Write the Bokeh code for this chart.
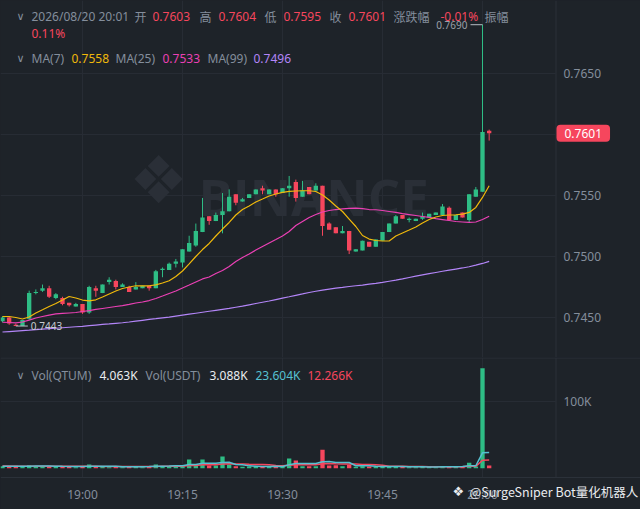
import numpy as np
from bokeh.plotting import figure
from bokeh.layouts import column
from bokeh.models import (Range1d, FixedTicker, Label, Span, ColumnDataSource, Grid,
                          BoxAnnotation)
from bokeh.embed import file_html
from bokeh.resources import INLINE

# ---------------- data ----------------
START = "18:48"          # first 1-minute candle
TICK_LABELS = ["19:00", "19:15", "19:30", "19:45", "20:00"]

open_ = [0.7447, 0.7450, 0.7444, 0.7443, 0.7449, 0.7470, 0.7472, 0.7474, 0.7466, 0.7466,
         0.7462, 0.7459, 0.7461, 0.7454, 0.7474, 0.7470, 0.7479, 0.7480, 0.7475, 0.7475,
         0.7473, 0.7474, 0.7476, 0.7474, 0.7489, 0.7489, 0.7494, 0.7495, 0.7504, 0.7509,
         0.7520, 0.7533, 0.7529, 0.7534, 0.7537, 0.7551, 0.7545, 0.7548, 0.7551, 0.7556,
         0.7551, 0.7555, 0.7552, 0.7556, 0.7561, 0.7549, 0.7557, 0.7554, 0.7558, 0.7527,
         0.7524, 0.7519, 0.7521, 0.7504, 0.7505, 0.7512, 0.7508, 0.7513, 0.7520, 0.7527,
         0.7534, 0.7530, 0.7529, 0.7531, 0.7532, 0.7534, 0.7534, 0.7540, 0.7530, 0.7536,
         0.7530, 0.7549, 0.7553, 0.7603]
high = [0.7451, 0.7451, 0.7445, 0.7448, 0.7472, 0.7473, 0.7477, 0.7476, 0.7470, 0.7467,
        0.7462, 0.7462, 0.7461, 0.7476, 0.7476, 0.7477, 0.7483, 0.7481, 0.7478, 0.7476,
        0.7479, 0.7476, 0.7476, 0.7489, 0.7491, 0.7495, 0.7498, 0.7506, 0.7517, 0.7527,
        0.7548, 0.7533, 0.7536, 0.7552, 0.7555, 0.7551, 0.7548, 0.7551, 0.7555, 0.7558,
        0.7555, 0.7555, 0.7556, 0.7566, 0.7563, 0.7562, 0.7557, 0.7560, 0.7558, 0.7528,
        0.7524, 0.7525, 0.7521, 0.7506, 0.7513, 0.7512, 0.7514, 0.7520, 0.7527, 0.7534,
        0.7534, 0.7532, 0.7531, 0.7536, 0.7535, 0.7536, 0.7543, 0.7541, 0.7534, 0.7536,
        0.7551, 0.7557, 0.7690, 0.7604]
low = [0.7446, 0.7444, 0.7443, 0.7443, 0.7448, 0.7469, 0.7471, 0.7466, 0.7465, 0.7460,
       0.7459, 0.7459, 0.7453, 0.7453, 0.7467, 0.7470, 0.7477, 0.7473, 0.7475, 0.7471,
       0.7473, 0.7474, 0.7472, 0.7474, 0.7483, 0.7489, 0.7491, 0.7491, 0.7504, 0.7508,
       0.7520, 0.7526, 0.7529, 0.7519, 0.7537, 0.7542, 0.7545, 0.7548, 0.7551, 0.7551,
       0.7551, 0.7549, 0.7552, 0.7549, 0.7545, 0.7549, 0.7551, 0.7554, 0.7517, 0.7522,
       0.7519, 0.7519, 0.7502, 0.7504, 0.7505, 0.7508, 0.7508, 0.7513, 0.7520, 0.7527,
       0.7531, 0.7528, 0.7529, 0.7530, 0.7532, 0.7534, 0.7534, 0.7530, 0.7530, 0.7532,
       0.7528, 0.7549, 0.7553, 0.7595]
close = [0.7450, 0.7445, 0.7443, 0.7448, 0.7470, 0.7471, 0.7474, 0.7467, 0.7469, 0.7461,
         0.7460, 0.7461, 0.7454, 0.7475, 0.7472, 0.7477, 0.7481, 0.7475, 0.7477, 0.7471,
         0.7475, 0.7476, 0.7474, 0.7488, 0.7490, 0.7494, 0.7496, 0.7506, 0.7511, 0.7521,
         0.7532, 0.7529, 0.7534, 0.7537, 0.7549, 0.7544, 0.7547, 0.7551, 0.7555, 0.7554,
         0.7555, 0.7551, 0.7556, 0.7558, 0.7548, 0.7554, 0.7551, 0.7558, 0.7525, 0.7522,
         0.7519, 0.7521, 0.7505, 0.7506, 0.7513, 0.7508, 0.7514, 0.7520, 0.7527, 0.7533,
         0.7531, 0.7531, 0.7531, 0.7533, 0.7535, 0.7536, 0.7541, 0.7530, 0.7534, 0.7532,
         0.7551, 0.7555, 0.7602, 0.7601]

ma7 = [0.74508, 0.74508, 0.74500, 0.74488, 0.74504, 0.74537, 0.74563, 0.74590, 0.74615, 0.74643,
       0.74672, 0.74660, 0.74643, 0.74637, 0.74645, 0.74668, 0.74693, 0.74717, 0.74738, 0.74750,
       0.74760, 0.74760, 0.74760, 0.74768, 0.74783, 0.74801, 0.74836, 0.74881, 0.74939, 0.75000,
       0.75057, 0.75107, 0.75168, 0.75225, 0.75279, 0.75340, 0.75385, 0.75414, 0.75447, 0.75471,
       0.75496, 0.75512, 0.75525, 0.75534, 0.75537, 0.75539, 0.75539, 0.75533, 0.75504, 0.75463,
       0.75414, 0.75369, 0.75307, 0.75246, 0.75172, 0.75143, 0.75131, 0.75127, 0.75127, 0.75168,
       0.75193, 0.75217, 0.75242, 0.75275, 0.75303, 0.75324, 0.75336, 0.75340, 0.75342, 0.75348,
       0.75361, 0.75402, 0.75484, 0.75580]
ma25 = [0.74461, 0.74459, 0.74456, 0.74463, 0.74479, 0.74496, 0.74508, 0.74520, 0.74529, 0.74533,
        0.74537, 0.74541, 0.74549, 0.74557, 0.74566, 0.74574, 0.74582, 0.74590, 0.74598, 0.74607,
        0.74619, 0.74627, 0.74639, 0.74656, 0.74676, 0.74697, 0.74717, 0.74742, 0.74766, 0.74791,
        0.74816, 0.74832, 0.74861, 0.74885, 0.74918, 0.74959, 0.74992, 0.75020, 0.75053, 0.75082,
        0.75111, 0.75139, 0.75168, 0.75205, 0.75254, 0.75287, 0.75320, 0.75344, 0.75365, 0.75377,
        0.75385, 0.75391, 0.75395, 0.75396, 0.75393, 0.75385, 0.75383, 0.75377, 0.75369, 0.75361,
        0.75352, 0.75344, 0.75336, 0.75328, 0.75320, 0.75311, 0.75303, 0.75295, 0.75287, 0.75283,
        0.75279, 0.75283, 0.75303, 0.75330]
ma99 = [0.74381, 0.74385, 0.74389, 0.74393, 0.74396, 0.74400, 0.74404, 0.74408, 0.74412, 0.74416,
        0.74420, 0.74424, 0.74428, 0.74433, 0.74438, 0.74443, 0.74447, 0.74452, 0.74457, 0.74463,
        0.74470, 0.74477, 0.74484, 0.74490, 0.74497, 0.74503, 0.74511, 0.74519, 0.74527, 0.74535,
        0.74543, 0.74551, 0.74559, 0.74567, 0.74575, 0.74584, 0.74593, 0.74604, 0.74615, 0.74625,
        0.74635, 0.74647, 0.74659, 0.74670, 0.74682, 0.74693, 0.74705, 0.74715, 0.74725, 0.74733,
        0.74741, 0.74747, 0.74754, 0.74760, 0.74766, 0.74774, 0.74780, 0.74788, 0.74797, 0.74806,
        0.74816, 0.74828, 0.74839, 0.74849, 0.74859, 0.74869, 0.74879, 0.74888, 0.74897, 0.74906,
        0.74916, 0.74929, 0.74943, 0.74960]

vol_k = [3.0, 2.5, 3.5, 2.0, 4.5, 2.5, 3.0, 3.5, 2.0, 3.0,
         2.0, 1.5, 2.5, 5.5, 2.0, 2.5, 1.5, 2.5, 1.5, 3.0,
         2.0, 1.5, 3.0, 5.5, 3.0, 3.0, 4.5, 3.0, 13.0, 3.5,
         13.0, 4.0, 4.0, 17.5, 5.0, 3.0, 2.0, 2.5, 3.0, 2.5,
         2.5, 3.0, 3.0, 14.5, 11.5, 3.0, 3.0, 3.0, 27.5, 4.0,
         4.5, 3.0, 5.0, 2.0, 3.0, 2.5, 2.0, 2.5, 2.5, 3.0,
         2.0, 1.5, 1.5, 2.0, 2.0, 1.5, 2.5, 3.0, 2.0, 2.5,
         8.0, 2.5, 150.0, 4.063]
vol_ma5_k = [3.0, 3.0, 3.0, 2.8, 3.1, 3.2, 3.2, 3.2, 3.1, 2.8,
             2.7, 2.4, 2.6, 3.1, 2.9, 2.9, 2.8, 2.8, 2.2, 2.2,
             2.1, 2.3, 2.4, 3.0, 3.0, 3.2, 3.8, 3.8, 5.7, 5.5,
             7.3, 7.3, 7.5, 8.4, 8.9, 5.6, 5.2, 3.5, 3.1, 2.6,
             2.6, 2.8, 2.7, 5.1, 6.9, 7.0, 7.0, 7.0, 9.7, 9.9,
             8.4, 8.6, 8.6, 3.7, 3.5, 3.5, 2.9, 2.4, 2.5, 2.5,
             2.5, 2.3, 2.1, 2.0, 1.8, 1.8, 2.0, 2.2, 2.2, 2.4,
             3.6, 3.7, 23.0, 23.604]
vol_ma10_k = [3.2, 3.2, 3.1, 3.0, 3.0, 3.1, 3.1, 3.1, 3.0, 3.0,
              2.9, 2.9, 2.8, 2.9, 2.8, 2.7, 2.6, 2.6, 2.5, 2.5,
              2.6, 2.6, 2.6, 2.7, 2.8, 2.9, 3.0, 3.0, 3.9, 4.2,
              5.0, 5.2, 5.3, 6.2, 6.6, 6.4, 6.4, 5.9, 5.6, 5.5,
              5.0, 4.2, 3.5, 4.4, 5.0, 5.2, 5.0, 5.1, 6.8, 6.9,
              6.5, 6.2, 6.4, 6.3, 5.7, 5.4, 5.0, 4.6, 3.0, 3.0,
              2.9, 2.6, 2.5, 2.4, 2.3, 2.2, 2.2, 2.2, 2.2, 2.3,
              2.8, 2.8, 12.0, 12.266]

PRICE_TICKS = [0.7450, 0.7500, 0.7550, 0.7650]
PRICE_GRID = [0.7450, 0.7500, 0.7550, 0.7600, 0.7650]
VOL_TICKS = [100]

# ---------------- styling ----------------
BG = "#1e2329"
GRID = "#272c34"
SEP = "#2b3139"
GRAY = "#848e9c"
RED = "#f6465d"
GREEN = "#2ebd85"
WHITE = "#eaecef"
C_MA7, C_MA25, C_MA99 = "#f0b90b", "#eb40b5", "#b385f8"
C_VMA5, C_VMA10 = "#56c1d1", "#f6465d"
LATIN = "Noto Sans"
CJK = "Noto Sans CJK SC"
AXIS_X = 555          # left edge of the price-scale strip (screen px)
LABEL_X = 563         # left edge of the scale labels (screen px)


def to_min(s):
    h, m = map(int, s.split(":"))
    return h * 60 + m - 19 * 60


t = np.arange(len(close)) + to_min(START)
tick_pos = [to_min(s) for s in TICK_LABELS]

o = np.array(open_); c = np.array(close)
col = [GREEN if cc >= oo else RED for oo, cc in zip(o, c)]
src = ColumnDataSource(dict(t=t, open=o, close=c, high=high, low=low,
                            top=np.maximum(o, c), bottom=np.minimum(o, c), color=col,
                            vol=vol_k))

xr = Range1d(-12.3, 83.7)


def base_fig(h, yr):
    f = figure(width=640, height=h, x_range=xr, y_range=yr, x_axis_location=None,
               y_axis_location=None, toolbar_location=None, output_backend="svg",
               min_border_left=0, min_border_right=0, min_border_top=0, min_border_bottom=0,
               background_fill_color=BG, border_fill_color=BG, outline_line_color=None)
    for g in f.grid:
        g.visible = False
    return f


def lab(fig, text, px, py, color, bottom, font=LATIN, size="12px", align="left"):
    fig.add_layout(Label(x=px, y=bottom - py, x_units="screen", y_units="screen",
                         text=text, text_color=color, text_font=font, text_font_size=size,
                         text_align=align, text_baseline="middle"))


# ---------------- price panel ----------------
PH = 357
p = base_fig(PH, Range1d(0.741721, 0.770984))
p.add_layout(Grid(dimension=0, ticker=FixedTicker(ticks=tick_pos), grid_line_color=GRID))
p.add_layout(Grid(dimension=1, ticker=FixedTicker(ticks=PRICE_GRID), grid_line_color=GRID))

# watermark
p.add_layout(Label(x=158, y=PH - 180, x_units="screen", y_units="screen", text="❖",
                   text_font="DejaVu Sans", text_font_size="66px", text_color="#2a2f37",
                   text_align="center", text_baseline="middle", level="underlay"))
p.add_layout(Label(x=198, y=PH - 195, x_units="screen", y_units="screen", text="BINANCE",
                   text_font="Open Sans", text_font_size="51px", text_font_style="bold",
                   text_color="#2a2f37", text_align="left", text_baseline="alphabetic",
                   level="underlay"))

p.segment(x0="t", y0="low", x1="t", y1="high", color="color", line_width=1, source=src)
p.vbar(x="t", width=0.65, top="top", bottom="bottom", fill_color="color",
       line_color=None, source=src)
p.line(t, ma99, color=C_MA99, line_width=1.2)
p.line(t, ma25, color=C_MA25, line_width=1.2)
p.line(t, ma7, color=C_MA7, line_width=1.2)

# high / low markers
ih = int(np.argmax(high)); il = int(np.argmin(low))
MARK = "#b7bdc6"
p.segment(x0=[t[ih] - 1.8], y0=[high[ih]], x1=[t[ih]], y1=[high[ih]], color=MARK, line_width=1)
p.add_layout(Label(x=t[ih] - 2.25, y=high[ih], text=f"{high[ih]:.4f}", text_align="right",
                   text_baseline="middle", text_font=LATIN, text_font_size="10px",
                   text_color="#9aa0a8"))
p.segment(x0=[t[il]], y0=[low[il]], x1=[t[il] + 1.8], y1=[low[il]], color=MARK, line_width=1)
p.add_layout(Label(x=t[il] + 2.25, y=low[il], text=f"{low[il]:.4f}", text_align="left",
                   text_baseline="middle", text_font=LATIN, text_font_size="10px",
                   text_color="#c8ccd2"))

# price scale strip
p.add_layout(BoxAnnotation(left=AXIS_X, left_units="screen", fill_color=BG, fill_alpha=1,
                           line_color=None))
p.add_layout(Span(location=AXIS_X + 0.5, location_units="screen", dimension="height",
                  line_color=SEP, line_width=1))
for tv in PRICE_TICKS:
    p.add_layout(Label(x=LABEL_X, y=tv, x_units="screen", text=f"{tv:.4f}",
                       text_align="left", text_baseline="middle", text_font=LATIN,
                       text_font_size="12px", text_color=GRAY))
p.add_layout(Label(x=AXIS_X + 1, y=close[-1], x_units="screen", text=f"{close[-1]:.4f}",
                   text_align="left", text_baseline="middle", text_font=LATIN,
                   text_font_size="12px", text_color="#ffffff", background_fill_color=RED,
                   border_radius=4, padding=(8, 4)))

header = [("∨", 16, GRAY, "DejaVu Sans"), ("2026/08/20 20:01", 31, GRAY, LATIN),
          ("开", 134, GRAY, CJK), ("0.7603", 152, RED, LATIN),
          ("高", 199, GRAY, CJK), ("0.7604", 218, RED, LATIN),
          ("低", 264, GRAY, CJK), ("0.7595", 283, RED, LATIN),
          ("收", 329, GRAY, CJK), ("0.7601", 348, RED, LATIN),
          ("涨跌幅", 393, GRAY, CJK), ("-0.01%", 440, RED, LATIN),
          ("振幅", 484, GRAY, CJK)]
for txt, x, colr, f in header:
    lab(p, txt, x, 16, colr, PH, font=f, size="11px" if txt == "∨" else "12px")
lab(p, "0.11%", 31, 33, RED, PH)
for txt, x, colr, f in [("∨", 16, GRAY, "DejaVu Sans"), ("MA(7)", 31, GRAY, LATIN),
                        ("0.7558", 71, C_MA7, LATIN), ("MA(25)", 115, GRAY, LATIN),
                        ("0.7533", 162, C_MA25, LATIN), ("MA(99)", 207, GRAY, LATIN),
                        ("0.7496", 253, C_MA99, LATIN)]:
    lab(p, txt, x, 58, colr, PH, font=f, size="11px" if txt == "∨" else "12px")

# ---------------- volume panel ----------------
VH = 152
VB = PH + VH          # page y of the volume panel's bottom edge
v = base_fig(VH, Range1d(-61.95, 166.05))
v.add_layout(Grid(dimension=0, ticker=FixedTicker(ticks=tick_pos), grid_line_color=GRID))
v.add_layout(Grid(dimension=1, ticker=FixedTicker(ticks=VOL_TICKS), grid_line_color=GRID))

v.vbar(x="t", width=0.65, top="vol", bottom=0, fill_color="color", line_color=None, source=src)
v.line(t, vol_ma10_k, color=C_VMA10, line_width=1.5)
v.line(t, vol_ma5_k, color=C_VMA5, line_width=1.5)

v.add_layout(BoxAnnotation(left=AXIS_X, left_units="screen", fill_color=BG, fill_alpha=1,
                           line_color=None))
v.add_layout(Span(location=AXIS_X + 0.5, location_units="screen", dimension="height",
                  line_color=SEP, line_width=1))
v.add_layout(BoxAnnotation(top=-13.95, fill_color=BG, fill_alpha=1, line_color=None))
v.add_layout(Span(location=-13.95, dimension="width", line_color=SEP, line_width=1))
v.add_layout(Span(location=165.3, dimension="width", line_color=SEP, line_width=1))
for tv in VOL_TICKS:
    v.add_layout(Label(x=LABEL_X, y=tv, x_units="screen", text=f"{tv}K",
                       text_align="left", text_baseline="middle", text_font=LATIN,
                       text_font_size="12px", text_color=GRAY))
for tp, s in zip(tick_pos, TICK_LABELS):
    v.add_layout(Label(x=tp, y=VB - 494, y_units="screen", text=s, text_align="center",
                       text_baseline="middle", text_font=LATIN, text_font_size="12px",
                       text_color=GRAY))

for txt, x, colr, f in [("∨", 16, GRAY, "DejaVu Sans"), ("Vol(QTUM)", 31, GRAY, LATIN),
                        ("4.063K", 99, WHITE, LATIN), ("Vol(USDT)", 145, GRAY, LATIN),
                        ("3.088K", 209, WHITE, LATIN), ("23.604K", 255, C_VMA5, LATIN),
                        ("12.266K", 307, C_VMA10, LATIN)]:
    lab(v, txt, x, 375, colr, VB, font=f, size="11px" if txt == "∨" else "12px")
lab(v, "❖", 452, 491, WHITE, VB, font="DejaVu Sans", size="13px")
lab(v, "@SurgeSniper Bot量化机器人", 469, 491, WHITE, VB, font=CJK, size="12.5px")

layout = column(p, v)
open("out.html", "w").write(
    file_html(layout, INLINE).replace(
        "</head>", "<style>html,body{background:#1e2329;}</style></head>", 1))
